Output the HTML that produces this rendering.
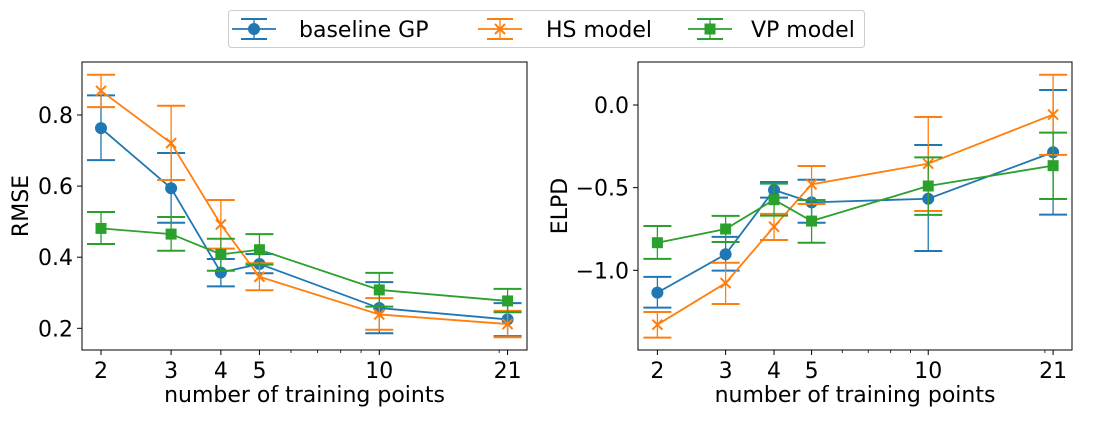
<!DOCTYPE html>
<html><head><meta charset="utf-8"><style>
body{margin:0;background:#fff;}
svg text{font-family:"DejaVu Sans","Liberation Sans",sans-serif;fill:#000;}
</style></head><body>
<svg id="chart" width="1093" height="416" viewBox="0 0 1093 416" xmlns="http://www.w3.org/2000/svg">
<g id="legend"></g>
</svg>
<script>
const xs = [2, 3, 4, 5, 10, 21];
const seriesNames = ["baseline GP", "HS model", "VP model"];
const colors = ["#1f77b4", "#ff7f0e", "#2ca02c"];
const markers = ["circle", "x", "square"];
// RMSE panel
const rmseBlue = [0.763, 0.594, 0.357, 0.381, 0.257, 0.225];
const rmseBlueHi = [0.855, 0.693, 0.395, 0.409, 0.330, 0.271];
const rmseBlueLo = [0.673, 0.497, 0.318, 0.355, 0.186, 0.178];
const rmseOrange = [0.868, 0.721, 0.492, 0.345, 0.239, 0.212];
const rmseOrangeHi = [0.913, 0.826, 0.561, 0.383, 0.285, 0.249];
const rmseOrangeLo = [0.822, 0.617, 0.424, 0.307, 0.196, 0.175];
const rmseGreen = [0.481, 0.465, 0.408, 0.421, 0.308, 0.277];
const rmseGreenHi = [0.527, 0.513, 0.452, 0.465, 0.356, 0.311];
const rmseGreenLo = [0.437, 0.418, 0.362, 0.379, 0.261, 0.245];
const rmseTicks = [0.2, 0.4, 0.6, 0.8];
const rmseTickLabels = ["0.2", "0.4", "0.6", "0.8"];
// ELPD panel
const elpdBlue = [-1.135, -0.903, -0.514, -0.589, -0.567, -0.286];
const elpdBlueHi = [-1.04, -0.798, -0.466, -0.452, -0.242, 0.091];
const elpdBlueLo = [-1.226, -1.002, -0.56, -0.712, -0.883, -0.663];
const elpdOrange = [-1.329, -1.077, -0.736, -0.48, -0.355, -0.058];
const elpdOrangeHi = [-1.252, -0.954, -0.659, -0.369, -0.073, 0.183];
const elpdOrangeLo = [-1.407, -1.204, -0.817, -0.599, -0.641, -0.302];
const elpdGreen = [-0.833, -0.75, -0.573, -0.702, -0.49, -0.367];
const elpdGreenHi = [-0.732, -0.671, -0.476, -0.575, -0.317, -0.167];
const elpdGreenLo = [-0.931, -0.829, -0.669, -0.833, -0.665, -0.569];
const elpdTicks = [-1.0, -0.5, 0.0];
const elpdTickLabels = ["\u22121.0", "\u22120.5", "0.0"];
const xTickLabels = ["2", "3", "4", "5", "10", "21"];
const minorTicks = [6, 7, 8, 9, 20];

const NS = "http://www.w3.org/2000/svg";
const svg = document.getElementById("chart");
function mk(tag, attrs, parent) {
  const e = document.createElementNS(NS, tag);
  for (const k in attrs) e.setAttribute(k, attrs[k]);
  (parent || svg).appendChild(e);
  return e;
}
function drawMarker(g, type, cx, cy, c) {
  let m;
  if (type === "circle") m = mk("circle", {cx, cy, r: 6, fill: c}, g);
  else if (type === "square") m = mk("rect", {x: cx - 5.5, y: cy - 5.5, width: 11, height: 11, fill: c}, g);
  else m = mk("path", {d: `M${cx-5},${cy-5}L${cx+5},${cy+5}M${cx-5},${cy+5}L${cx+5},${cy-5}`, stroke: c, "stroke-width": 2, fill: "none"}, g);
  return m;
}
function panel(cfg) {
  const {L, R, T, B, xl0, xl1, y0, y1, name} = cfg;
  const xScale = v => L + (Math.log10(v) - xl0) / (xl1 - xl0) * (R - L);
  const yScale = v => B - (v - y0) / (y1 - y0) * (B - T);
  const g = mk("g", {});
  
  
  xs.forEach((v, i) => {
    const x = xScale(v);
    mk("line", {x1: x, x2: x, y1: B, y2: B + 5, stroke: "#000", "stroke-width": 1}, g);
    const t = mk("text", {x, y: B + 28, "font-size": 22, "text-anchor": "middle"}, g);
    t.textContent = xTickLabels[i];
    
    
  });
  minorTicks.forEach(v => {
    const x = xScale(v);
    mk("line", {x1: x, x2: x, y1: B, y2: B + 3, stroke: "#000", "stroke-width": 0.8}, g);
  });
  cfg.ticks.forEach((v, i) => {
    const y = yScale(v);
    mk("line", {x1: L - 5, x2: L, y1: y, y2: y, stroke: "#000", "stroke-width": 1}, g);
    const t = mk("text", {x: L - 9, y: y + 8, "font-size": 22, "text-anchor": "end"}, g);
    t.textContent = cfg.tickLabels[i];
    
    
  });
  const xt = mk("text", {x: (L + R) / 2, y: 402, "font-size": 22, "text-anchor": "middle"}, g);
  xt.textContent = "number of training points";
  
  
  const yt = mk("text", {x: 0, y: 0, "font-size": 22, "text-anchor": "middle", transform: `translate(${cfg.ylabX},${(T + B) / 2}) rotate(-90)`}, g);
  yt.textContent = cfg.ylabel;
  
  
  cfg.series.forEach((s, si) => {
    const c = colors[si];
    const sg = mk("g", {}, g);
    
    
    s.hi.forEach((h, i) => {
      const x = xScale(xs[i]), yh = yScale(h), yl = yScale(s.lo[i]);
      mk("line", {x1: x, x2: x, y1: yh, y2: yl, stroke: c, "stroke-width": 1.3}, sg);
      mk("line", {x1: x - 14, x2: x + 14, y1: yh, y2: yh, stroke: c, "stroke-width": 2}, sg);
      mk("line", {x1: x - 14, x2: x + 14, y1: yl, y2: yl, stroke: c, "stroke-width": 2}, sg);
    });
    const pts = s.v.map((v, i) => xScale(xs[i]) + "," + yScale(v)).join(" ");
    mk("polyline", {points: pts, fill: "none", stroke: c, "stroke-width": 1.8}, sg);
    s.v.forEach((v, i) => {
      const m = drawMarker(sg, markers[si], xScale(xs[i]), yScale(v), c);
      
      
    });
  });
  mk("rect", {x: L, y: T, width: R - L, height: B - T, fill: "none", stroke: "#000", "stroke-width": 1}, g);
}
panel({name: "rmse", L: 82, R: 527, T: 62, B: 350, xl0: 0.2533, xl1: 1.371, y0: 0.139, y1: 0.949,
  ticks: rmseTicks, tickLabels: rmseTickLabels, ylabel: "RMSE", ylabX: 28,
  series: [{v: rmseBlue, hi: rmseBlueHi, lo: rmseBlueLo}, {v: rmseOrange, hi: rmseOrangeHi, lo: rmseOrangeLo}, {v: rmseGreen, hi: rmseGreenHi, lo: rmseGreenLo}]});
panel({name: "elpd", L: 638, R: 1072, T: 62, B: 350, xl0: 0.251, xl1: 1.371, y0: -1.482, y1: 0.260,
  ticks: elpdTicks, tickLabels: elpdTickLabels, ylabel: "ELPD", ylabX: 567,
  series: [{v: elpdBlue, hi: elpdBlueHi, lo: elpdBlueLo}, {v: elpdOrange, hi: elpdOrangeHi, lo: elpdOrangeLo}, {v: elpdGreen, hi: elpdGreenHi, lo: elpdGreenLo}]});
const lg = document.getElementById("legend");
mk("rect", {x: 228.5, y: 10.5, width: 636, height: 37, rx: 3, fill: "#fff", stroke: "#ccc", "stroke-width": 1}, lg);
const handleX = [254, 500, 710];
const textX = [299, 546, 751];
seriesNames.forEach((n, i) => {
  const eg = mk("g", {}, lg);
  
  
  const c = colors[i], cx = handleX[i], cy = 29;
  mk("line", {x1: cx - 22, x2: cx + 22, y1: cy, y2: cy, stroke: c, "stroke-width": 1.8}, eg);
  mk("line", {x1: cx, x2: cx, y1: cy - 10, y2: cy + 10, stroke: c, "stroke-width": 1.3}, eg);
  mk("line", {x1: cx - 13, x2: cx + 13, y1: cy - 10, y2: cy - 10, stroke: c, "stroke-width": 2}, eg);
  mk("line", {x1: cx - 13, x2: cx + 13, y1: cy + 10, y2: cy + 10, stroke: c, "stroke-width": 2}, eg);
  drawMarker(eg, markers[i], cx, cy, c);
  const t = mk("text", {x: textX[i], y: cy + 8, "font-size": 22}, eg);
  t.textContent = n;
});
</script>
</body></html>
